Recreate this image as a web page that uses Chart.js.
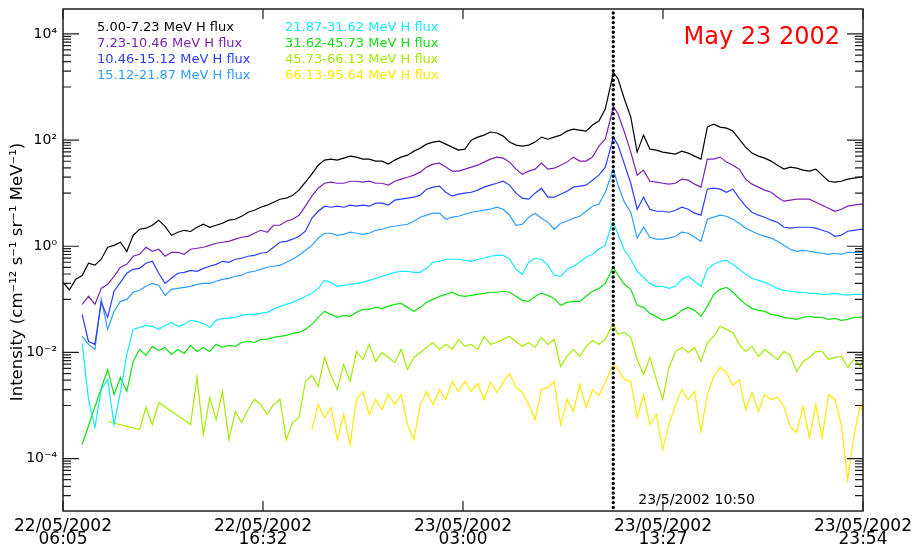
<!DOCTYPE html>
<html>
<head>
<meta charset="utf-8">
<script src="https://cdn.jsdelivr.net/npm/chart.js@4.4.1/dist/chart.umd.min.js"></script>
<style>
html,body{margin:0;padding:0;background:#ffffff;}
#c{display:block;}
</style>
</head>
<body>
<canvas id="c" width="917" height="548"></canvas>
<script>
// ---------- DATA (minutes after 22/05/2002 06:05) ----------
const times = [
  0,20,40,60,80,100,120,140,160,180,
  200,220,240,260,280,300,320,340,360,380,
  400,420,440,460,480,500,520,540,560,580,
  600,620,640,660,680,700,720,740,760,780,
  800,820,840,860,880,900,920,940,960,980,
  1000,1020,1040,1060,1080,1100,1120,1140,1160,1180,
  1200,1220,1240,1260,1280,1300,1320,1340,1360,1380,
  1400,1420,1440,1460,1480,1500,1520,1540,1560,1580,
  1600,1620,1640,1660,1680,1700,1720,1725,1740,1760,
  1780,1800,1820,1840,1860,1880,1900,1920,1940,1960,
  1980,2000,2020,2040,2060,2080,2100,2120,2140,2160,
  2180,2200,2220,2240,2260,2280,2300,2320,2340,2360,
  2380,2400,2420,2440,2460,2480,2500,2508
];

const seriesLabels = [
  "5.00-7.23 MeV H flux", "7.23-10.46 MeV H flux", "10.46-15.12 MeV H flux", "15.12-21.87 MeV H flux",
  "21.87-31.62 MeV H flux", "31.62-45.73 MeV H flux", "45.73-66.13 MeV H flux", "66.13-95.64 MeV H flux"
];
const seriesColors = ["#000000", "#7a22b4", "#2c3cff", "#2f9dff", "#14eaff", "#12e012", "#a2ec00", "#ffe800"];

const flux_5_00 = [
  0.21,0.15,0.24,0.28,0.48,0.44,0.57,0.96,1.04,1.19,
  0.80,1.61,2.09,2.19,2.49,3.1,2.38,1.61,1.84,2.0,
  1.9,2.28,2.6,2.28,2.49,2.72,3.1,3.23,3.68,4.38,
  4.78,5.44,5.94,6.77,7.7,8.05,9.17,11.4,16.1,22.8,
  33.7,42,43.8,42,45.7,49.9,47.8,43.8,43.8,40.2,
  40.2,35.3,42,47.8,52.1,62,70.6,84,91.7,95.7,
  84,73.8,64.8,67.6,100,114,124,142,136,119,
  91.7,80.5,77.1,80.5,91.7,114,104,114,124,148,
  161,154,148,192,228,384,1300,1920,1420,594,
  272,59.4,124,67.6,64.8,59.4,56.9,54.4,62,56.9,
  49.9,43.8,176,200,176,168,148,104,73.8,56.9,
  49.9,45.7,40.2,33.7,28.4,31,29.6,27.2,26,28.4,
  21.9,16.8,16.1,16.8,18.4,19.2,20,20.9
];
const flux_7_23 = [
  null,null,null,0.0805,0.114,0.0805,0.161,0.192,0.272,0.402,
  0.457,0.648,0.706,0.957,0.805,0.878,0.648,0.77,0.77,0.706,
  0.878,0.917,0.957,1.04,1.14,1.19,1.24,1.36,1.48,1.54,
  1.76,2.0,1.84,2.49,2.49,2.96,3.23,3.85,5.69,8.78,
  12.4,15.4,16.1,15.4,15.4,16.8,16.8,16.1,16.8,15.4,
  15.4,14.2,16.8,18.4,20,21.9,24.9,31,35.3,36.8,
  31,26,26,28.4,31,33.7,38.5,43.8,47.8,45.7,
  38.5,28.4,22.8,26,28.4,36.8,28.4,29.6,33.7,38.5,
  47.8,40.2,40.2,47.8,77.1,104,310,438,310,142,
  59.4,21.9,27.2,16.8,16.1,15.4,14.8,15.4,18.4,17.6,
  14.8,13,43.8,43.8,47.8,38.5,33.7,28.4,18.4,14.8,
  13,11.4,10.4,8.4,7.06,7.38,7.7,7.7,7.7,6.77,
  5.94,5.21,4.57,4.99,5.69,5.94,6.2,6.2
];
const flux_10_46 = [
  null,null,null,0.0521,0.0161,0.0142,0.0877,0.0457,0.142,0.209,
  0.31,0.368,0.384,0.478,0.521,0.31,0.2,0.249,0.31,0.323,
  0.352,0.338,0.384,0.42,0.457,0.521,0.499,0.569,0.594,0.648,
  0.676,0.738,0.77,0.957,1.19,1.24,1.36,1.54,1.92,3.37,
  4.57,5.69,5.44,5.69,5.44,5.94,5.69,5.94,5.69,6.48,
  6.48,5.94,7.38,7.7,8.05,8.4,9.17,11.9,13,13.6,
  10.4,8.78,9.58,10,10.4,11.4,13,14.2,15.4,16.8,
  14.2,10,8.05,7.7,10,12.4,8.4,8.4,9.58,10.9,
  13,13.6,14.2,17.6,21.9,31,84,114,80.5,35.3,
  15.4,4.99,8.4,4.99,4.57,4.57,4.38,4.78,5.44,4.99,
  4.2,3.85,11.9,12.4,11.9,10.4,11.9,8.05,5.69,4.38,
  3.85,3.53,3.1,2.84,2.28,2.19,2.28,2.28,2.28,2.19,
  2.0,1.84,1.54,1.61,1.92,2.0,2.09,2.09
];
const flux_15_12 = [
  null,null,null,0.02,0.0142,0.0114,0.1,0.0272,0.0594,0.0917,
  0.1,0.136,0.148,0.176,0.2,0.184,0.119,0.154,0.161,0.168,
  0.176,0.192,0.2,0.2,0.219,0.238,0.249,0.272,0.284,0.323,
  0.338,0.368,0.402,0.42,0.438,0.499,0.569,0.676,0.84,1.04,
  1.42,1.76,1.76,1.61,1.68,1.84,1.76,1.68,1.76,2.0,
  2.09,2.28,2.38,2.49,2.6,2.96,3.53,3.85,4.2,4.2,
  3.23,3.53,3.68,4.01,4.38,4.57,4.78,4.99,5.44,4.99,
  3.85,2.49,2.6,3.53,4.2,3.37,2.84,2.09,2.72,2.96,
  3.37,3.68,4.57,5.69,6.2,10.4,22.8,28.4,14.2,6.77,
  4.38,1.42,2.28,1.48,1.36,1.36,1.42,1.54,1.84,1.76,
  1.48,1.24,3.23,3.53,3.85,3.68,3.23,2.72,2.19,1.92,
  1.68,1.54,1.42,1.24,1.04,0.878,0.805,0.84,0.805,0.77,
  0.738,0.706,0.738,0.706,0.77,0.77,0.77,0.77
];
const flux_21_87 = [
  null,null,null,0.0148,0.0013,0.000385,0.002,0.0031,0.000438,0.00176,
  0.00917,0.0272,0.0296,0.0323,0.031,0.0272,0.0323,0.0368,0.031,0.0337,
  0.0402,0.0385,0.0353,0.0296,0.0402,0.0438,0.0438,0.0457,0.0499,0.0521,
  0.0521,0.0544,0.0569,0.0648,0.0738,0.0805,0.0877,0.1,0.114,0.13,
  0.161,0.228,0.209,0.176,0.184,0.192,0.2,0.209,0.228,0.249,
  0.272,0.296,0.323,0.338,0.338,0.323,0.323,0.384,0.499,0.521,
  0.569,0.569,0.569,0.544,0.521,0.569,0.594,0.648,0.676,0.676,
  0.569,0.368,0.296,0.499,0.594,0.569,0.438,0.284,0.272,0.368,
  0.42,0.499,0.62,0.706,0.878,1.04,2.6,2.84,1.68,0.84,
  0.569,0.338,0.26,0.2,0.176,0.176,0.161,0.176,0.238,0.272,
  0.219,0.176,0.368,0.457,0.521,0.544,0.457,0.368,0.296,0.249,
  0.228,0.209,0.184,0.161,0.148,0.142,0.136,0.136,0.13,0.13,
  0.124,0.124,0.13,0.124,0.12,0.124,0.124,0.124
];
const flux_31_62 = [
  null,null,null,0.000184,null,null,null,0.00478,0.00161,0.00337,
  0.00184,0.00677,0.0114,0.00878,0.013,0.0109,0.0124,0.00917,0.0114,0.00958,
  0.0136,0.0104,0.0124,0.0104,0.0142,0.0124,0.0136,0.013,0.0154,0.0161,
  0.0154,0.0176,0.0176,0.0192,0.02,0.0209,0.0228,0.0238,0.0272,0.0337,
  0.0457,0.0594,0.0521,0.0457,0.0499,0.0478,0.0569,0.0648,0.0648,0.0706,
  0.0676,0.0738,0.0805,0.0841,0.0706,0.0594,0.0706,0.0877,0.1,0.114,
  0.124,0.136,0.119,0.114,0.119,0.124,0.13,0.136,0.136,0.142,
  0.136,0.114,0.0957,0.0917,0.114,0.13,0.119,0.104,0.077,0.0877,
  0.0917,0.0917,0.114,0.142,0.161,0.2,0.352,0.402,0.284,0.192,
  0.154,0.077,0.0706,0.0544,0.0478,0.0402,0.0438,0.0499,0.062,0.0706,
  0.062,0.0478,0.0738,0.124,0.154,0.168,0.136,0.104,0.0805,0.0676,
  0.062,0.0594,0.0521,0.0499,0.0457,0.0438,0.042,0.0457,0.0478,0.0457,
  0.0457,0.042,0.0438,0.0402,0.042,0.0457,0.0457,0.0478
];
const flux_45_73 = [
  null,null,null,null,null,null,null,0.000499,null,null,
  null,null,0.000352,0.000917,0.000438,0.00114,null,null,null,null,
  0.000438,0.00337,0.000284,0.00142,0.000544,0.00184,0.000228,0.00077,0.000478,0.00084,
  0.0013,0.00104,0.000677,0.00104,0.0013,0.000228,0.000478,0.000594,0.00284,0.00368,
  0.00228,0.00805,0.00368,0.002,0.00594,0.00284,0.0104,0.00738,0.0142,0.00677,
  0.01,0.00805,0.00648,0.0114,0.00478,0.00805,0.01,0.0124,0.0154,0.0114,
  0.0142,0.0114,0.0176,0.013,0.0142,0.0114,0.02,0.0142,0.0154,0.0176,
  0.02,0.0161,0.013,0.0154,0.0124,0.0192,0.0142,0.0176,0.00544,0.0084,
  0.0114,0.0084,0.013,0.0168,0.0142,0.0176,0.031,0.0337,0.0219,0.0238,
  0.0192,0.00738,0.00385,0.00805,0.0031,0.0013,0.00521,0.0104,0.0124,0.01,
  0.0124,0.00677,0.0154,0.02,0.031,0.0272,0.0238,0.0142,0.0104,0.013,
  0.0084,0.0114,0.00917,0.00738,0.0104,0.00878,0.00438,0.00677,0.00805,0.0104,
  0.0104,0.00738,0.00805,0.0084,0.00521,0.00738,0.00544,0.0084
];
const flux_66_13 = [
  null,null,null,null,null,null,null,null,null,null,
  null,null,null,null,null,null,null,null,null,null,
  null,null,null,null,null,null,null,null,null,null,
  null,null,null,null,null,null,null,null,null,0.000352,
  0.00104,0.000594,0.000917,0.000228,0.000677,0.000184,0.0013,0.00184,0.000677,0.0013,
  0.00084,0.00161,0.00104,0.00161,0.000438,0.000228,0.00104,0.00184,0.00104,0.002,
  0.0013,0.00284,0.00184,0.00284,0.00184,0.0026,0.0013,0.00272,0.00176,0.00272,
  0.00401,0.00219,0.00176,0.00104,0.000544,0.002,0.00219,0.00284,0.000438,0.0013,
  0.00077,0.00249,0.000917,0.002,0.00154,0.00272,0.00521,0.00594,0.00478,0.0031,
  0.00284,0.000594,0.00161,0.000438,0.000677,0.000148,0.000438,0.00104,0.002,0.0013,
  0.00184,0.000323,0.00161,0.00352,0.00521,0.0042,0.00238,0.0031,0.00084,0.00176,
  0.00077,0.00161,0.0013,0.00142,0.000958,0.000401,0.00031,0.000958,0.000249,0.00104,
  0.000249,0.00161,0.0013,0.000438,0.0000401,0.000284,0.00104,0.000738
];
const seriesValues = [flux_5_00, flux_7_23, flux_10_46, flux_15_12, flux_21_87, flux_31_62, flux_45_73, flux_66_13];

const xTickTimes = [0, 627, 1254, 1881, 2508];
const xTickLabels = [
  ["22/05/2002", "06:05"], ["22/05/2002", "16:32"], ["23/05/2002", "03:00"],
  ["23/05/2002", "13:27"], ["23/05/2002", "23:54"]
];
const yTickValues = [1e-4, 1e-2, 1, 1e2, 1e4];
const yTickLabels = ["10\u207B\u2074", "10\u207B\u00B2", "10\u2070", "10\u00B2", "10\u2074"];
const yMinorDecades = [1e3, 1e1, 1e-1, 1e-3, 1e-5];
const yMinorSteps = [1, 2, 3, 4, 5, 6, 7, 8, 9];
const eventTime = 1725;
const eventLabel = "23/5/2002 10:50";
const titleText = "May 23 2002";
const yTitleText = "Intensity (cm\u207B\u00B9\u00B2 s\u207B\u00B9 sr\u207B\u00B9 MeV\u207B\u00B9)";

// ---------- CHART ----------
const FONT = '"DejaVu Sans", "Liberation Sans", sans-serif';

const datasets = seriesValues.map((vals, i) => ({
  label: seriesLabels[i],
  data: times.map((t, j) => ({ x: t, y: vals[j] })),
  borderColor: seriesColors[i],
  backgroundColor: seriesColors[i],
  borderWidth: 1.2,
  pointRadius: 0,
  tension: 0,
  spanGaps: true,
  fill: false
}));

const overlay = {
  id: 'overlay',
  afterDatasetsDraw(chart) {
    const ctx = chart.ctx;
    const a = chart.chartArea;
    const x = chart.scales.x, y = chart.scales.y;
    ctx.save();

    // event dotted line
    const ex = x.getPixelForValue(eventTime);
    ctx.beginPath();
    ctx.setLineDash([0, 4.8]);
    ctx.lineCap = 'round';
    ctx.lineWidth = 3.4;
    ctx.strokeStyle = '#000';
    ctx.moveTo(ex, a.top + 4);
    ctx.lineTo(ex, a.bottom);
    ctx.stroke();
    ctx.setLineDash([]);
    ctx.lineCap = 'butt';

    // frame
    ctx.lineWidth = 1.5;
    ctx.strokeStyle = '#1e1e1e';
    ctx.strokeRect(a.left, a.top, a.right - a.left, a.bottom - a.top);

    // ticks (inward)
    ctx.lineWidth = 1.2;
    ctx.beginPath();
    const yt = (v, len) => {
      const py = y.getPixelForValue(v);
      if (py < a.top - 0.5 || py > a.bottom + 0.5) return;
      ctx.moveTo(a.left, py); ctx.lineTo(a.left + len, py);
      ctx.moveTo(a.right, py); ctx.lineTo(a.right - len, py);
    };
    yTickValues.forEach(v => yt(v, 16));
    yMinorDecades.forEach(d => yMinorSteps.forEach(m => yt(m * d, 8)));
    xTickTimes.forEach(t => {
      const px = x.getPixelForValue(t);
      ctx.moveTo(px, a.bottom); ctx.lineTo(px, a.bottom - 10);
      ctx.moveTo(px, a.top); ctx.lineTo(px, a.top + 10);
    });
    ctx.stroke();

    // legend (coloured text, two columns)
    ctx.font = '13px ' + FONT;
    ctx.textBaseline = 'middle';
    ctx.textAlign = 'left';
    const colX = [97, 285];
    const rowY = [28, 44, 60, 76];
    seriesLabels.forEach((lab, i) => {
      ctx.fillStyle = seriesColors[i];
      ctx.fillText(lab, colX[Math.floor(i / 4)], rowY[i % 4]);
    });

    // title
    ctx.font = '24px ' + FONT;
    ctx.fillStyle = '#ff0000';
    ctx.textAlign = 'right';
    ctx.textBaseline = 'alphabetic';
    ctx.fillText(titleText, 840, 44);

    // event annotation
    ctx.font = '14px ' + FONT;
    ctx.fillStyle = '#000';
    ctx.textAlign = 'left';
    ctx.fillText(eventLabel, ex + 25, 504);

    // y title
    ctx.translate(22, 272);
    ctx.rotate(-Math.PI / 2);
    ctx.font = '16.5px ' + FONT;
    ctx.textAlign = 'center';
    ctx.textBaseline = 'alphabetic';
    ctx.fillStyle = '#000';
    ctx.fillText(yTitleText, 0, 0);

    ctx.restore();
  }
};

new Chart(document.getElementById('c'), {
  type: 'line',
  data: { datasets },
  options: {
    responsive: false,
    devicePixelRatio: 1,
    animation: false,
    events: [],
    layout: { padding: { left: 0, right: 54, top: 9, bottom: 0 } },
    plugins: { legend: { display: false }, tooltip: { enabled: false }, title: { display: false } },
    scales: {
      x: {
        type: 'linear',
        min: 0,
        max: 2508,
        grid: { display: false, drawTicks: false },
        border: { display: false },
        afterBuildTicks: s => { s.ticks = xTickTimes.map(v => ({ value: v })); },
        afterFit: s => { s.height = 37; s.paddingLeft = 0; s.paddingRight = 0; },
        ticks: {
          autoSkip: false,
          maxRotation: 0,
          minRotation: 0,
          padding: 9,
          color: '#000',
          font: { family: FONT, size: 17, lineHeight: 0.78 },
          callback: (v, i) => xTickLabels[i]
        }
      },
      y: {
        type: 'logarithmic',
        min: 1.03e-5,
        max: 2.95e4,
        grid: { display: false, drawTicks: false },
        border: { display: false },
        afterBuildTicks: s => { s.ticks = yTickValues.map(v => ({ value: v })); },
        afterFit: s => { s.width = 63; s.paddingTop = 0; s.paddingBottom = 0; },
        ticks: {
          autoSkip: false,
          padding: 6,
          color: '#000',
          font: { family: FONT, size: 14 },
          callback: (v, i) => yTickLabels[i]
        }
      }
    }
  },
  plugins: [overlay]
});
</script>
</body>
</html>
